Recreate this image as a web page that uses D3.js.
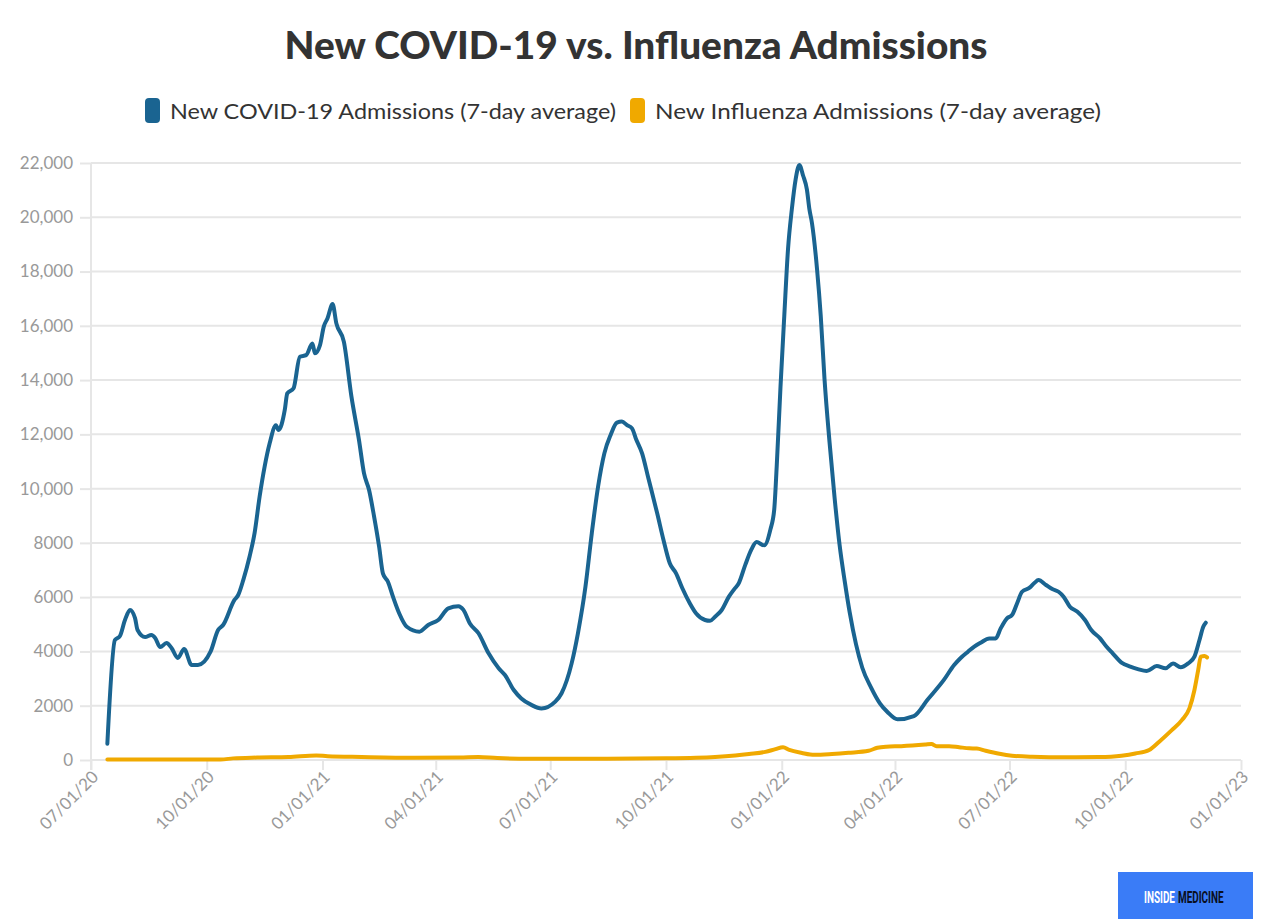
<!DOCTYPE html>
<html>
<head>
<meta charset="utf-8">
<script src="https://cdn.jsdelivr.net/npm/d3@7"></script>
<style>
  html, body { margin: 0; padding: 0; background: #fff; }
  svg { display: block; }
</style>
</head>
<body>
<svg id="chart" width="1272" height="919"></svg>
<script>
// ---------- DATA ----------
const titleText = "New COVID-19 vs. Influenza Admissions";
const seriesNames = ["New COVID-19 Admissions (7-day average)", "New Influenza Admissions (7-day average)"];
const seriesColors = ["#1a6491", "#f0a900"];

const yTicks = [0, 2000, 4000, 6000, 8000, 10000, 12000, 14000, 16000, 18000, 20000, 22000];
const xTickLabels = ["07/01/20", "10/01/20", "01/01/21", "04/01/21", "07/01/21", "10/01/21",
                     "01/01/22", "04/01/22", "07/01/22", "10/01/22", "01/01/23"];

const covidDates = [
  "07/14/20","07/20/20","07/24/20","07/28/20","08/01/20","08/05/20","08/07/20","08/13/20","08/18/20","08/21/20",
  "08/25/20","08/30/20","09/03/20","09/08/20","09/13/20","09/19/20","09/24/20","10/04/20","10/10/20","10/14/20",
  "10/23/20","10/26/20","10/30/20","11/04/20","11/08/20","11/12/20","11/16/20","11/20/20","11/25/20","11/27/20",
  "12/02/20","12/04/20","12/09/20","12/14/20","12/19/20","12/24/20","12/26/20","12/30/20","01/02/21","01/05/21",
  "01/09/21","01/12/21","01/18/21","01/24/21","01/30/21","02/03/21","02/07/21","02/11/21","02/15/21","02/18/21",
  "02/22/21","02/26/21","03/03/21","03/09/21","03/19/21","03/26/21","04/03/21","04/11/21","04/19/21","04/23/21",
  "04/28/21","05/05/21","05/13/21","05/21/21","05/26/21","06/02/21","06/08/21","06/16/21","06/24/21","07/05/21",
  "07/10/21","07/18/21","07/23/21","07/29/21","08/03/21","08/08/21","08/13/21","08/18/21","08/23/21","08/27/21",
  "08/31/21","09/04/21","09/07/21","09/12/21","09/17/21","09/24/21","09/29/21","10/04/21","10/09/21","10/14/21",
  "10/20/21","10/25/21","11/01/21","11/05/21","11/09/21","11/14/21","11/20/21","11/24/21","11/28/21","12/03/21",
  "12/08/21","12/12/21","12/18/21","12/23/21","12/26/21","12/28/21","12/31/21","01/03/22","01/06/22","01/09/22",
  "01/12/22","01/15/22","01/18/22","01/21/22","01/23/22","01/25/22","01/29/22","02/01/22","02/04/22","02/08/22",
  "02/12/22","02/16/22","02/20/22","02/24/22","03/01/22","03/06/22","03/13/22","03/20/22","03/26/22","04/03/22",
  "04/16/22","04/27/22","05/10/22","05/18/22","05/23/22","05/29/22","06/03/22","06/08/22","06/15/22","06/20/22",
  "06/24/22","06/29/22","07/03/22","07/07/22","07/11/22","07/17/22","07/21/22","07/24/22","07/30/22","08/04/22",
  "08/09/22","08/13/22","08/18/22","08/24/22","08/30/22","09/04/22","09/11/22","09/16/22","09/21/22","09/28/22",
  "10/05/22","10/11/22","10/18/22","10/26/22","11/02/22","11/08/22","11/14/22","11/20/22","11/25/22","11/29/22",
  "12/02/22","12/04/22"
];
const covidValues = [
  600,4420,4570,5160,5530,5230,4790,4530,4610,4500,
  4160,4310,4130,3760,4090,3500,3500,3990,4790,4975,
  5900,6080,6630,7490,8360,9700,10810,11670,12340,12160,
  12900,13510,13700,14860,14920,15350,14990,15290,15970,16280,
  16800,16090,15410,13390,11790,10560,9950,8970,7860,6880,
  6570,6020,5400,4910,4730,4975,5160,5590,5670,5530,
  5040,4670,3930,3380,3130,2580,2270,2030,1900,2150,
  2460,3560,4670,6390,8350,10070,11300,11980,12430,12470,
  12340,12220,11850,11300,10380,9090,8110,7250,6880,6330,
  5770,5400,5160,5130,5280,5510,6020,6280,6530,7190,
  7770,8030,7910,8500,9220,10830,13750,16360,18840,20290,
  21390,21930,21530,21020,20290,19790,18110,16360,14030,11700,
  9660,7910,6600,5440,4270,3400,2670,2090,1770,1500,
  1620,2230,2960,3500,3750,3990,4180,4320,4480,4480,
  4850,5220,5340,5770,6200,6350,6530,6630,6450,6300,
  6200,6020,5650,5460,5160,4790,4480,4180,3930,3590,
  3440,3350,3280,3460,3380,3560,3420,3560,3810,4420,
  4910,5060
];

const fluDates = [
  "07/14/20","10/12/20","10/22/20","11/10/20","12/05/20","12/27/20","01/05/21","02/01/21","03/15/21","04/20/21",
  "05/05/21","05/20/21","06/15/21","08/15/21","10/01/21","10/25/21","11/09/21","11/25/21","12/06/21","12/19/21",
  "12/27/21","01/02/22","01/07/22","01/17/22","01/27/22","02/10/22","02/23/22","03/11/22","03/18/22","03/25/22",
  "04/06/22","04/25/22","04/30/22","05/04/22","05/14/22","05/22/22","05/30/22","06/05/22","06/12/22","06/23/22",
  "07/03/22","07/19/22","08/15/22","09/10/22","09/28/22","10/09/22","10/20/22","10/28/22","11/07/22","11/15/22",
  "11/21/22","11/25/22","11/28/22","11/30/22","12/03/22","12/05/22"
];
const fluValues = [
  20,20,60,90,110,170,140,110,80,90,
  110,70,50,50,60,80,110,165,220,300,
  400,470,370,260,190,220,265,340,450,490,
  510,570,590,510,510,470,430,420,340,230,
  160,120,100,110,160,240,370,675,1100,1470,
  1900,2580,3320,3810,3830,3780
];

const logoWords = ["INSIDE", "MEDICINE"];

// ---------- DRAW ----------
const parse = d3.timeParse("%m/%d/%y");
const fmtX = d3.timeFormat("%m/%d/%y");
const svg = d3.select("#chart");
const font = "Lato, 'Open Sans', sans-serif";

const x = d3.scaleTime().domain([parse("07/01/20"), parse("01/01/23")]).range([91, 1241]);
const y = d3.scaleLinear().domain([0, 22000]).range([760, 163]);

// Title
svg.append("text")
  .attr("x", 636).attr("y", 59)
  .attr("text-anchor", "middle")
  .attr("font-family", font).attr("font-weight", 900).attr("font-size", 37)
  .attr("fill", "#333333")
  .attr("textLength", 703).attr("lengthAdjust", "spacingAndGlyphs")
  .text(titleText);

// Legend
const legendItems = [
  { name: seriesNames[0], color: seriesColors[0], mx: 145, tx: 170, tw: 446 },
  { name: seriesNames[1], color: seriesColors[1], mx: 630, tx: 655, tw: 446 }
];
const lg = svg.append("g");
legendItems.forEach(d => {
  lg.append("rect").attr("x", d.mx).attr("y", 98).attr("width", 15).attr("height", 25)
    .attr("rx", 4).attr("fill", d.color);
  lg.append("text").attr("x", d.tx).attr("y", 119)
    .attr("font-family", font).attr("font-size", 22).attr("fill", "#333333")
    .attr("textLength", d.tw).attr("lengthAdjust", "spacingAndGlyphs")
    .text(d.name);
});

// Grid
const grid = svg.append("g");
grid.selectAll("line.h").data(yTicks).join("line")
  .attr("x1", 91).attr("x2", 1241)
  .attr("y1", d => y(d)).attr("y2", d => y(d))
  .attr("stroke", "#e6e6e6").attr("stroke-width", 2);
grid.append("line").attr("x1", 91).attr("x2", 91).attr("y1", 163).attr("y2", 770)
  .attr("stroke", "#e6e6e6").attr("stroke-width", 2);

// Y axis
const yAxis = d3.axisLeft(y).tickValues(yTicks).tickSize(11).tickPadding(7)
  .tickFormat(d => d >= 10000 ? d3.format(",")(d) : d3.format("d")(d));
const gy = svg.append("g").attr("transform", "translate(91,0)").call(yAxis);
gy.select(".domain").remove();
gy.selectAll(".tick line").attr("stroke", "#e6e6e6").attr("stroke-width", 2);
gy.selectAll(".tick text").attr("font-family", font).attr("font-size", 17).attr("fill", "#999999");

// X axis
const xAxis = d3.axisBottom(x).tickValues(xTickLabels.map(parse)).tickSize(10).tickFormat(fmtX);
const gx = svg.append("g").attr("transform", "translate(0,760)").call(xAxis);
gx.select(".domain").remove();
gx.selectAll(".tick line").attr("stroke", "#e6e6e6").attr("stroke-width", 2);
gx.selectAll(".tick text")
  .attr("font-family", font).attr("font-size", 17).attr("fill", "#999999")
  .attr("text-anchor", "end")
  .attr("dy", null).attr("y", null)
  .attr("transform", "translate(8,18) rotate(-45)");

// Lines
const line = d3.line().x(d => x(d[0])).y(d => y(d[1])).curve(d3.curveMonotoneX);
const covid = covidDates.map((d, i) => [parse(d), covidValues[i]]);
const flu = fluDates.map((d, i) => [parse(d), fluValues[i]]);
svg.append("path").datum(flu).attr("d", line)
  .attr("fill", "none").attr("stroke", seriesColors[1]).attr("stroke-width", 4)
  .attr("stroke-linejoin", "round").attr("stroke-linecap", "round");
svg.append("path").datum(covid).attr("d", line)
  .attr("fill", "none").attr("stroke", seriesColors[0]).attr("stroke-width", 4)
  .attr("stroke-linejoin", "round").attr("stroke-linecap", "round");

// Logo (condensed wordmark, drawn with horizontal scaling)
const logo = svg.append("g");
logo.append("rect").attr("x", 1118).attr("y", 872).attr("width", 135).attr("height", 47).attr("fill", "#3a7cf7");
const w1 = logo.append("g").attr("transform", "translate(1144,903) scale(0.62,1)");
w1.append("text").attr("x", 0).attr("y", 0)
  .attr("font-family", "Roboto, sans-serif").attr("font-weight", 700).attr("font-size", 16)
  .attr("fill", "#ffffff").text(logoWords[0]);
const w2 = logo.append("g").attr("transform", "translate(1178,903) scale(0.62,1)");
w2.append("text").attr("x", 0).attr("y", 0)
  .attr("font-family", "Roboto, sans-serif").attr("font-weight", 700).attr("font-size", 16)
  .attr("fill", "#0a0f1e").text(logoWords[1]);
</script>
</body>
</html>
